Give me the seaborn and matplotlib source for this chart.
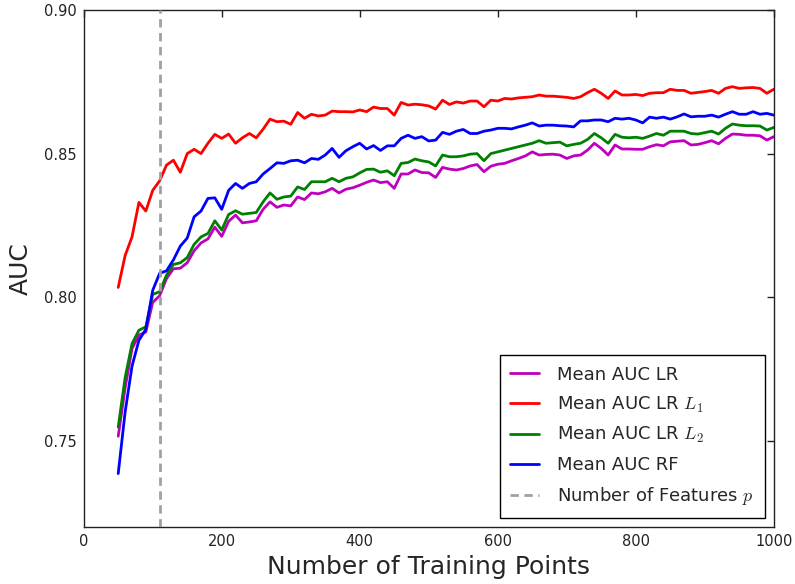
import matplotlib
matplotlib.use("Agg")
import matplotlib.pyplot as plt
from matplotlib.lines import Line2D
import numpy as np
import pandas as pd
import seaborn as sns

# Training-set sizes on the x axis
train_sizes = list(range(50, 1001, 10))

# Mean AUC curves
auc_lr = [
    0.7516, 0.7684, 0.7821, 0.7868, 0.7879, 0.7982, 0.8005, 0.8065, 0.8099, 0.8101,
    0.8120, 0.8162, 0.8189, 0.8203, 0.8244, 0.8212, 0.8264, 0.8286, 0.8259, 0.8262,
    0.8266, 0.8306, 0.8332, 0.8313, 0.8321, 0.8318, 0.8349, 0.8340, 0.8363, 0.8360,
    0.8367, 0.8379, 0.8363, 0.8376, 0.8381, 0.8390, 0.8400, 0.8408, 0.8399, 0.8402,
    0.8379, 0.8429, 0.8429, 0.8443, 0.8434, 0.8433, 0.8417, 0.8452, 0.8446, 0.8443,
    0.8448, 0.8457, 0.8462, 0.8437, 0.8456, 0.8463, 0.8466, 0.8475, 0.8483, 0.8492,
    0.8506, 0.8495, 0.8497, 0.8498, 0.8495, 0.8483, 0.8492, 0.8495, 0.8512, 0.8536,
    0.8518, 0.8495, 0.8530, 0.8516, 0.8516, 0.8515, 0.8515, 0.8524, 0.8531, 0.8527,
    0.8541, 0.8543, 0.8545, 0.8530, 0.8532, 0.8538, 0.8545, 0.8534, 0.8553, 0.8568,
    0.8567, 0.8564, 0.8564, 0.8562, 0.8547, 0.8559,
]
auc_lr_l1 = [
    0.8034, 0.8145, 0.8210, 0.8330, 0.8300, 0.8372, 0.8405, 0.8460, 0.8477, 0.8435,
    0.8500, 0.8515, 0.8500, 0.8536, 0.8567, 0.8553, 0.8568, 0.8536, 0.8555, 0.8570,
    0.8555, 0.8585, 0.8620, 0.8611, 0.8613, 0.8602, 0.8643, 0.8623, 0.8637, 0.8631,
    0.8634, 0.8648, 0.8646, 0.8646, 0.8645, 0.8652, 0.8646, 0.8662, 0.8657, 0.8657,
    0.8634, 0.8678, 0.8669, 0.8672, 0.8670, 0.8666, 0.8655, 0.8686, 0.8671, 0.8680,
    0.8676, 0.8683, 0.8683, 0.8663, 0.8686, 0.8683, 0.8692, 0.8690, 0.8694, 0.8696,
    0.8698, 0.8704, 0.8700, 0.8700, 0.8698, 0.8696, 0.8692, 0.8698, 0.8712, 0.8724,
    0.8710, 0.8692, 0.8718, 0.8704, 0.8704, 0.8706, 0.8702, 0.8710, 0.8712, 0.8712,
    0.8724, 0.8720, 0.8720, 0.8710, 0.8713, 0.8716, 0.8720, 0.8710, 0.8727, 0.8733,
    0.8727, 0.8729, 0.8730, 0.8727, 0.8710, 0.8724,
]
auc_lr_l2 = [
    0.7548, 0.7720, 0.7838, 0.7885, 0.7897, 0.8010, 0.8019, 0.8077, 0.8114, 0.8120,
    0.8138, 0.8184, 0.8210, 0.8222, 0.8266, 0.8234, 0.8288, 0.8301, 0.8289, 0.8292,
    0.8295, 0.8332, 0.8363, 0.8341, 0.8349, 0.8352, 0.8384, 0.8375, 0.8402, 0.8402,
    0.8402, 0.8414, 0.8402, 0.8414, 0.8419, 0.8433, 0.8445, 0.8446, 0.8435, 0.8440,
    0.8423, 0.8466, 0.8469, 0.8481, 0.8475, 0.8471, 0.8457, 0.8495, 0.8489, 0.8489,
    0.8492, 0.8498, 0.8500, 0.8475, 0.8500, 0.8506, 0.8512, 0.8518, 0.8524, 0.8530,
    0.8536, 0.8545, 0.8536, 0.8538, 0.8540, 0.8527, 0.8532, 0.8536, 0.8549, 0.8570,
    0.8555, 0.8536, 0.8567, 0.8557, 0.8555, 0.8557, 0.8553, 0.8561, 0.8570, 0.8564,
    0.8578, 0.8578, 0.8578, 0.8570, 0.8568, 0.8573, 0.8578, 0.8568, 0.8588, 0.8603,
    0.8599, 0.8597, 0.8597, 0.8596, 0.8582, 0.8591,
]
auc_rf = [
    0.7386, 0.7600, 0.7760, 0.7850, 0.7888, 0.8024, 0.8083, 0.8092, 0.8130, 0.8178,
    0.8206, 0.8280, 0.8300, 0.8344, 0.8346, 0.8306, 0.8372, 0.8396, 0.8379, 0.8396,
    0.8402, 0.8429, 0.8448, 0.8468, 0.8466, 0.8475, 0.8477, 0.8468, 0.8483, 0.8480,
    0.8495, 0.8518, 0.8487, 0.8510, 0.8524, 0.8536, 0.8516, 0.8528, 0.8511, 0.8527,
    0.8527, 0.8553, 0.8564, 0.8553, 0.8559, 0.8544, 0.8547, 0.8574, 0.8567, 0.8578,
    0.8584, 0.8570, 0.8570, 0.8578, 0.8582, 0.8588, 0.8588, 0.8586, 0.8593, 0.8599,
    0.8607, 0.8596, 0.8599, 0.8599, 0.8597, 0.8596, 0.8593, 0.8614, 0.8614, 0.8617,
    0.8617, 0.8611, 0.8623, 0.8620, 0.8623, 0.8617, 0.8607, 0.8627, 0.8623, 0.8627,
    0.8620, 0.8628, 0.8638, 0.8628, 0.8630, 0.8630, 0.8634, 0.8627, 0.8637, 0.8646,
    0.8637, 0.8637, 0.8646, 0.8637, 0.8640, 0.8634,
]

# Number of features p
n_features = 111

series_labels = ["Mean AUC LR", r"Mean AUC LR $L_1$", r"Mean AUC LR $L_2$", "Mean AUC RF"]
series_colors = ["#bf00bf", "#ff0000", "#008000", "#0000ff"]
feature_label = r"Number of Features $p$"

sns.set_style("white")
plt.rcParams["font.family"] = ["DejaVu Sans"]
plt.rcParams["mathtext.fontset"] = "cm"

frames = []
for label, values in zip(series_labels, [auc_lr, auc_lr_l1, auc_lr_l2, auc_rf]):
    frames.append(pd.DataFrame({"n": train_sizes, "auc": values, "model": label}))
df = pd.concat(frames, ignore_index=True)

fig = plt.figure(figsize=(7.95, 5.84), dpi=100)
ax = fig.add_axes([0.1053, 0.0976, 0.8680, 0.8853])

sns.lineplot(data=df, x="n", y="auc", hue="model", hue_order=series_labels,
             palette=dict(zip(series_labels, series_colors)), linewidth=2,
             legend=False, ax=ax, sort=False)
ax.axvline(n_features, color="#a0a0a0", linestyle=(0, (3, 2)), linewidth=2, zorder=5)

ax.set_xlim(0, 1000)
ax.set_ylim(0.72, 0.90)
ax.set_xticks([0, 200, 400, 600, 800, 1000])
ax.set_yticks([0.75, 0.80, 0.85, 0.90])
ax.set_yticklabels(["0.75", "0.80", "0.85", "0.90"])
ax.tick_params(direction="in", length=5, width=1, top=True, right=True,
               labelsize=10.5, pad=5, colors="#222222")
for sp in ax.spines.values():
    sp.set_color("#222222")
    sp.set_linewidth(1)

ax.set_xlabel("Number of Training Points", fontsize=18, labelpad=4)
ax.set_ylabel("AUC", fontsize=18, labelpad=8)

handles = [Line2D([0], [0], color=c, linewidth=2) for c in series_colors]
handles.append(Line2D([0], [0], color="#a0a0a0", linewidth=2, linestyle=(0, (3, 2))))
leg = ax.legend(handles, series_labels + [feature_label], loc="lower right",
                fontsize=13, frameon=True, fancybox=False, framealpha=1,
                edgecolor="black", handlelength=1.6, handletextpad=1.0,
                labelspacing=0.6, borderpad=0.6, borderaxespad=0.5)
leg.get_frame().set_linewidth(1)

fig.savefig("out.png", dpi=100)
